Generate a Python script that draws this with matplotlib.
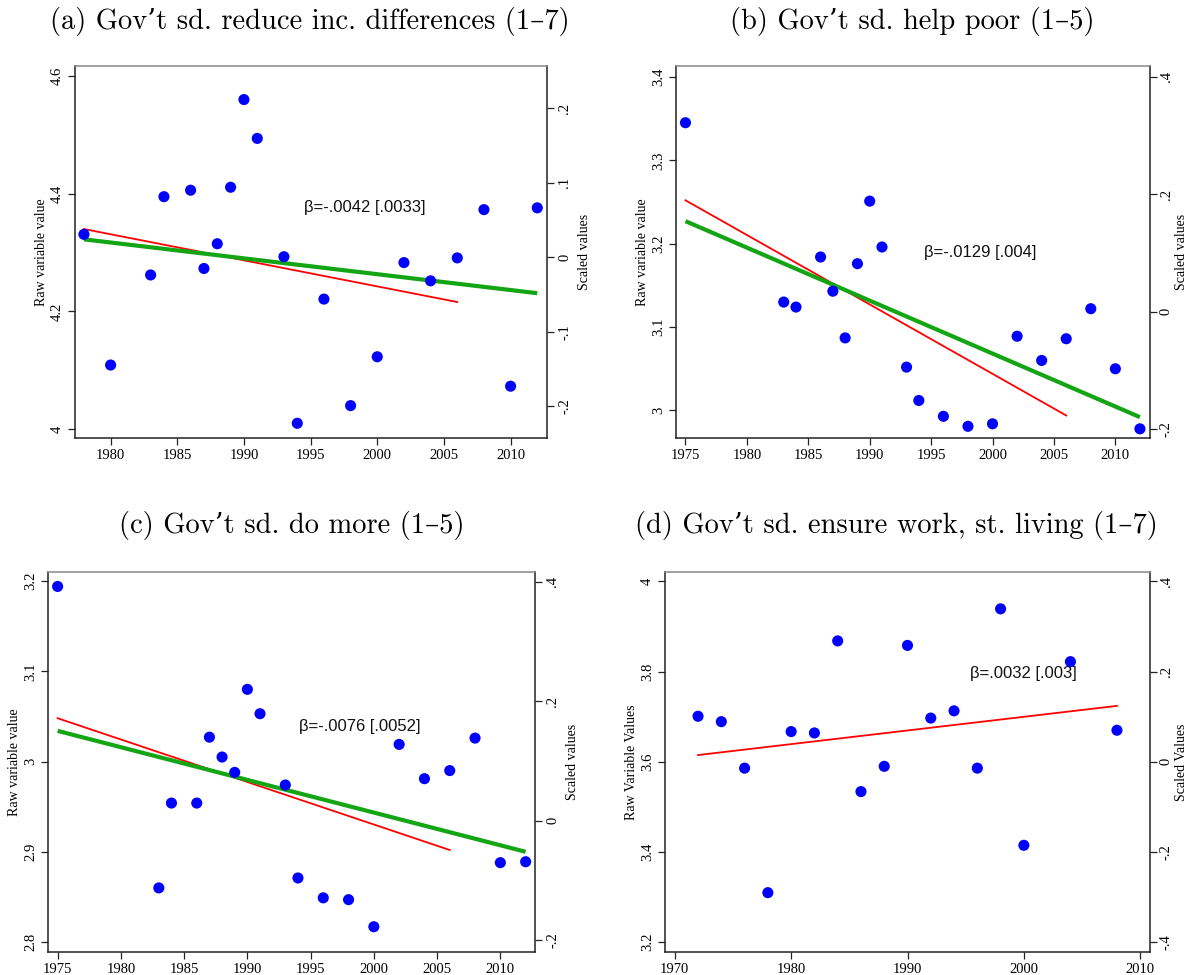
import matplotlib
matplotlib.use("Agg")
import matplotlib.pyplot as plt
from matplotlib.ticker import FuncFormatter, FixedLocator

# ---------------- data ----------------
titles = ["(a) Gov\u2019t sd. reduce inc. differences (1\u20137)",
          "(b) Gov\u2019t sd. help poor (1\u20135)",
          "(c) Gov\u2019t sd. do more (1\u20135)",
          "(d) Gov\u2019t sd. ensure work, st. living (1\u20137)"]

years_a = [1978, 1980, 1983, 1984, 1986, 1987, 1988, 1989, 1990, 1991, 1993,
           1994, 1996, 1998, 2000, 2002, 2004, 2006, 2008, 2010, 2012]
vals_a = [4.331, 4.109, 4.262, 4.395, 4.406, 4.273, 4.315, 4.411, 4.560, 4.494,
          4.293, 4.010, 4.221, 4.040, 4.123, 4.283, 4.252, 4.291, 4.373, 4.073, 4.376]
red_a_years = [1978, 2006]
red_a_vals = [4.340, 4.216]
green_a_years = [1978, 2012]
green_a_vals = [4.3225, 4.231]

years_b = [1975, 1983, 1984, 1986, 1987, 1988, 1989, 1990, 1991, 1993, 1994,
           1996, 1998, 2000, 2002, 2004, 2006, 2008, 2010, 2012]
vals_b = [3.345, 3.130, 3.124, 3.184, 3.143, 3.087, 3.176, 3.251, 3.196, 3.052,
          3.012, 2.993, 2.981, 2.984, 3.089, 3.060, 3.086, 3.122, 3.050, 2.978]
red_b_years = [1975, 2006]
red_b_vals = [3.252, 2.994]
green_b_years = [1975, 2012]
green_b_vals = [3.227, 2.992]

years_c = [1975, 1983, 1984, 1986, 1987, 1988, 1989, 1990, 1991, 1993, 1994,
           1996, 1998, 2000, 2002, 2004, 2006, 2008, 2010, 2012]
vals_c = [3.194, 2.860, 2.954, 2.954, 3.027, 3.005, 2.988, 3.080, 3.053, 2.974,
          2.871, 2.849, 2.847, 2.817, 3.019, 2.981, 2.990, 3.026, 2.888, 2.889]
red_c_years = [1975, 2006]
red_c_vals = [3.048, 2.902]
green_c_years = [1975, 2012]
green_c_vals = [3.034, 2.900]

years_d = [1972, 1974, 1976, 1978, 1980, 1982, 1984, 1986, 1988, 1990, 1992,
           1994, 1996, 1998, 2000, 2004, 2008]
vals_d = [3.701, 3.689, 3.586, 3.310, 3.667, 3.664, 3.868, 3.534, 3.590, 3.858,
          3.697, 3.713, 3.586, 3.939, 3.415, 3.822, 3.670]
red_d_years = [1972, 2008]
red_d_vals = [3.615, 3.724]

beta_texts = ["\u03b2=-.0042 [.0033]", "\u03b2=-.0129 [.004]",
              "\u03b2=-.0076 [.0052]", "\u03b2=.0032 [.003]"]

left_ticks_a = [4.0, 4.2, 4.4, 4.6]
left_ticks_b = [3.0, 3.1, 3.2, 3.3, 3.4]
left_ticks_c = [2.8, 2.9, 3.0, 3.1, 3.2]
left_ticks_d = [3.2, 3.4, 3.6, 3.8, 4.0]
right_ticks_a = [-0.2, -0.1, 0.0, 0.1, 0.2]
right_ticks_b = [-0.2, 0.0, 0.2, 0.4]
right_ticks_c = [-0.2, 0.0, 0.2, 0.4]
right_ticks_d = [-0.4, -0.2, 0.0, 0.2, 0.4]
x_ticks_a = [1980, 1985, 1990, 1995, 2000, 2005, 2010]
x_ticks_b = [1975, 1980, 1985, 1990, 1995, 2000, 2005, 2010]
x_ticks_c = [1975, 1980, 1985, 1990, 1995, 2000, 2005, 2010]
x_ticks_d = [1970, 1980, 1990, 2000, 2010]

# scaled axis: scaled = (raw - center) / sd
scale_center = [4.2923, 3.1186, 2.9344, 3.6]
scale_sd = [1.265, 0.7034, 0.6623, 1.0]

ylabels_left = ["Raw variable value", "Raw variable value",
                "Raw variable value", "Raw Variable Values"]
ylabels_right = ["Scaled values", "Scaled values", "Scaled values", "Scaled Values"]

# ---------------- layout ----------------
W, H = 1188, 975
boxes = [(75, 547, 66, 438), (676, 1150, 66, 438),
         (48, 535, 572, 952), (665, 1150, 572, 952)]
xlims = [(1977.33, 2012.73), (1974.23, 2012.82), (1974.24, 2012.74), (1969.16, 2010.84)]
ylims = [(3.985, 4.617), (2.967, 3.413), (2.789, 3.210), (3.1785, 4.0207)]
beta_pos = [(1994.5, 4.377), (1994.4, 3.190), (1994.1, 3.039), (1995.4, 3.795)]
title_pos = [(310, 22), (912, 22), (292, 525), (896, 525)]
right_labelpad = [5, 1.5, 5, 1.5]
right_tickpad = [3, 2, 3, 2]

panels = [
    (years_a, vals_a, red_a_years, red_a_vals, green_a_years, green_a_vals,
     left_ticks_a, right_ticks_a, x_ticks_a),
    (years_b, vals_b, red_b_years, red_b_vals, green_b_years, green_b_vals,
     left_ticks_b, right_ticks_b, x_ticks_b),
    (years_c, vals_c, red_c_years, red_c_vals, green_c_years, green_c_vals,
     left_ticks_c, right_ticks_c, x_ticks_c),
    (years_d, vals_d, red_d_years, red_d_vals, None, None,
     left_ticks_d, right_ticks_d, x_ticks_d),
]

SERIF = ["Liberation Serif", "DejaVu Serif"]
SANS = ["Liberation Sans", "DejaVu Sans"]
TITLE_FONT = ["cmr10", "DejaVu Serif"]


def fmt_left(v, pos=None):
    return ("%g" % round(v, 4))


def fmt_right(v, pos=None):
    s = "%g" % round(v, 4)
    if s.startswith("0."):
        s = s[1:]
    elif s.startswith("-0."):
        s = "-" + s[2:]
    return s


fig = plt.figure(figsize=(W / 100, H / 100), dpi=100)

for i, (yrs, vals, ry, rv, gy, gv, lt, rt, xt) in enumerate(panels):
    l, r, t, b = boxes[i]
    ax = fig.add_axes([l / W, 1 - b / H, (r - l) / W, (b - t) / H])
    ax.set_xlim(*xlims[i])
    ax.set_ylim(*ylims[i])

    ax.plot(ry, rv, color="#ff0000", lw=1.3, zorder=3)
    if gy is not None:
        ax.plot(gy, gv, color="#14a514", lw=3.0, zorder=3, solid_capstyle="butt")
    ax.scatter(yrs, vals, s=64, color="#0000ff", edgecolors="none", zorder=4)

    ax.text(beta_pos[i][0], beta_pos[i][1], beta_texts[i], ha="left", va="center",
            fontsize=12, family=SANS, color="#111111")

    ax.xaxis.set_major_locator(FixedLocator(xt))
    ax.yaxis.set_major_locator(FixedLocator(lt))
    ax.yaxis.set_major_formatter(FuncFormatter(fmt_left))
    ax.tick_params(axis="both", direction="out", length=5, width=0.9,
                   labelsize=10.5, color="#222222")
    ax.tick_params(axis="x", pad=3)
    ax.tick_params(axis="y", pad=3)
    for lab in ax.get_xticklabels():
        lab.set_family(SERIF)
    for lab in ax.get_yticklabels():
        lab.set_family(SERIF)
        lab.set_rotation(90)
        lab.set_va("center")
    for side in ["left", "bottom", "right"]:
        ax.spines[side].set_color("#222222")
        ax.spines[side].set_linewidth(1.1)
    ax.spines["top"].set_color("#888888")
    ax.spines["top"].set_linewidth(1.1)
    ax.set_ylabel(ylabels_left[i], fontsize=10, family=SERIF, labelpad=2)

    # scaled (right) axis
    c, sd = scale_center[i], scale_sd[i]
    ax2 = ax.twinx()
    lo, hi = ylims[i]
    ax2.set_ylim((lo - c) / sd, (hi - c) / sd)
    ax2.yaxis.set_major_locator(FixedLocator(rt))
    ax2.yaxis.set_major_formatter(FuncFormatter(fmt_right))
    ax2.tick_params(axis="y", direction="out", length=5, width=0.9,
                    labelsize=10.5, color="#222222", pad=right_tickpad[i])
    for lab in ax2.get_yticklabels():
        lab.set_family(SERIF)
        lab.set_rotation(90)
        lab.set_va("center")
    for sp in ax2.spines.values():
        sp.set_visible(False)
    ax2.set_ylabel(ylabels_right[i], fontsize=10, family=SERIF,
                   labelpad=right_labelpad[i])

    fig.text(title_pos[i][0] / W, 1 - title_pos[i][1] / H, titles[i],
             ha="center", va="center", fontsize=20.5, family=TITLE_FONT)

fig.savefig("out.png", dpi=100)
